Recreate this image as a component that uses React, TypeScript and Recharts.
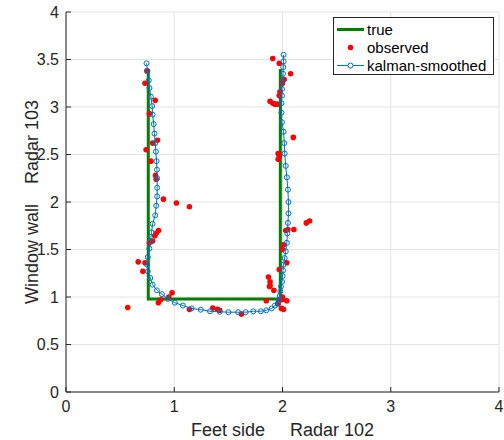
import React from "react";
import {
  ScatterChart,
  Scatter,
  XAxis,
  YAxis,
  CartesianGrid,
  Legend,
  Label,
} from "recharts";

const FONT = '"Liberation Sans", Arial, Helvetica, sans-serif';
const AXIS_COLOR = "#262626";

// true path (green)
const trueX = [0.76, 0.76, 1.98, 1.98];
const trueY = [3.4, 0.98, 0.98, 3.4];

// observed radar points (red)
const observedX = [
  0.747, 0.73, 0.824, 0.77, 0.845, 0.8, 0.74, 0.784, 0.827, 0.833, 0.9, 1.02,
  1.14, 0.855, 0.833, 0.82, 0.8, 0.77, 0.667, 0.73, 0.71, 0.57, 0.98, 0.95,
  0.875, 0.853, 1.14, 1.356, 1.4, 1.42, 1.62, 1.85, 1.885, 1.885, 2.0, 2.04,
  1.99, 2.01, 2.25, 2.22, 2.105, 2.03, 2.05, 2.01, 2.0, 2.04, 1.97, 1.87, 1.88,
  1.92, 1.97, 2.005, 1.96, 1.91, 1.97, 2.075, 2.015, 2.0, 1.977, 1.97, 1.885,
  1.91, 1.93, 1.95, 2.1, 1.96, 1.97, 1.96,
];
const observedY = [
  3.38, 3.25, 3.07, 2.93, 2.65, 2.62, 2.55, 2.43, 2.28, 2.24, 2.03, 1.99, 1.95,
  1.7, 1.67, 1.645, 1.59, 1.57, 1.37, 1.36, 1.27, 0.89, 1.045, 1.0, 0.97, 0.94,
  0.87, 0.885, 0.87, 0.86, 0.82, 0.96, 1.16, 1.12, 1.0, 0.96, 0.88, 0.87, 1.8,
  1.78, 1.71, 1.7, 1.71, 1.55, 1.5, 1.36, 1.29, 1.21, 1.11, 1.07, 0.96, 0.975,
  0.93, 3.51, 3.46, 3.35, 3.29, 3.25, 3.16, 3.12, 3.06, 3.04, 3.03, 3.03, 2.68,
  2.51, 2.49, 2.45,
];

// kalman-smoothed track (blue)
const smoothX = [
  0.744, 0.753, 0.765, 0.771, 0.784, 0.796, 0.8, 0.81, 0.817, 0.824, 0.83,
  0.836, 0.84, 0.842, 0.842, 0.842, 0.833, 0.824, 0.8, 0.79, 0.78, 0.77, 0.756,
  0.75, 0.756, 0.778, 0.8, 0.84, 0.886, 0.94, 1.005, 1.08, 1.16, 1.245, 1.33,
  1.42, 1.5, 1.59, 1.66, 1.73, 1.8, 1.85, 1.9, 1.93, 1.955, 1.965, 1.975, 1.98,
  1.985, 1.995, 2.0, 2.005, 2.01, 2.02, 2.03, 2.04, 2.045, 2.05, 2.055, 2.055,
  2.05, 2.04, 2.03, 2.02, 2.017, 2.01, 1.995, 1.99, 1.99, 1.995, 1.995, 2.0,
  2.005, 2.007, 2.01, 2.01,
];
const smoothY = [
  3.46, 3.38, 3.28, 3.2, 3.11, 3.01, 2.92, 2.82, 2.72, 2.62, 2.53, 2.43, 2.34,
  2.25, 2.15, 2.06, 1.96, 1.86, 1.77, 1.68, 1.59, 1.51, 1.42, 1.34, 1.27, 1.2,
  1.13, 1.07, 1.03, 0.98, 0.94, 0.91, 0.88, 0.866, 0.85, 0.845, 0.84, 0.84,
  0.84, 0.85, 0.85, 0.86, 0.88, 0.91, 0.93, 0.97, 1.01, 1.06, 1.11, 1.16, 1.22,
  1.28, 1.34, 1.41, 1.48, 1.57, 1.67, 1.78, 1.88, 2.0, 2.13, 2.26, 2.38, 2.51,
  2.62, 2.74, 2.84, 2.94, 3.04, 3.12, 3.19, 3.27, 3.35, 3.42, 3.48, 3.55,
];

const xTicks = [0, 1, 2, 3, 4];
const yTicks = [0, 0.5, 1, 1.5, 2, 2.5, 3, 3.5, 4];

const toPoints = (xs: number[], ys: number[]) =>
  xs.map((x, i) => ({ x, y: ys[i] }));

const trueData = toPoints(trueX, trueY);
const observedData = toPoints(observedX, observedY);
const smoothData = toPoints(smoothX, smoothY);

const NoDot = () => <g />;

const RedDot = (props: any) => (
  <circle cx={props.cx} cy={props.cy} r={2.8} fill="#ff0000" />
);

const BlueRing = (props: any) => (
  <circle
    cx={props.cx}
    cy={props.cy}
    r={2.5}
    fill="none"
    stroke="#0072bd"
    strokeWidth={1}
  />
);

const XLabel = (props: any) => {
  const { x, y, width } = props.viewBox;
  return (
    <text
      x={x + width / 2}
      y={y + 44}
      textAnchor="middle"
      fontFamily={FONT}
      fontSize={18}
      fill={AXIS_COLOR}
      style={{ whiteSpace: "pre" }}
    >
      {"Feet side     Radar 102"}
    </text>
  );
};

const YLabel = (props: any) => {
  const { y, height } = props.viewBox;
  const cx = 38;
  const cy = y + height / 2;
  return (
    <text
      x={cx}
      y={cy}
      textAnchor="middle"
      transform={`rotate(-90 ${cx} ${cy})`}
      fontFamily={FONT}
      fontSize={18}
      fill={AXIS_COLOR}
      style={{ whiteSpace: "pre" }}
    >
      {"Window wall    Radar 103"}
    </text>
  );
};

function LegendBox() {
  const rows = [
    { name: "true", kind: "line" },
    { name: "observed", kind: "dot" },
    { name: "kalman-smoothed", kind: "ring" },
  ];
  return (
    <div
      style={{
        width: 159,
        height: 56,
        border: `1px solid ${AXIS_COLOR}`,
        background: "#fff",
        fontFamily: FONT,
        fontSize: 15,
        color: "#000",
        position: "relative",
      }}
    >
      <svg width={34} height={56} style={{ position: "absolute", left: 0, top: 0 }}>
        <line x1={3} x2={30} y1={11.5} y2={11.5} stroke="#008000" strokeWidth={3} />
        <circle cx={16.5} cy={29.5} r={2.8} fill="#ff0000" />
        <line x1={3} x2={30} y1={47.5} y2={47.5} stroke="#0072bd" strokeWidth={1} />
        <circle cx={16.5} cy={47.5} r={2.5} fill="#fff" stroke="#0072bd" />
      </svg>
      {rows.map((r, i) => (
        <div
          key={r.name}
          style={{
            position: "absolute",
            left: 33,
            top: 3 + i * 18,
            lineHeight: "17px",
            whiteSpace: "nowrap",
          }}
        >
          {r.name}
        </div>
      ))}
    </div>
  );
}

export default function App() {
  return (
    <div style={{ position: "absolute", left: 0, top: 0, width: 504, height: 440, background: "#fff" }}>
      <ScatterChart
        width={504}
        height={440}
        margin={{ top: 12, right: 5, bottom: 0, left: 0 }}
      >
        <CartesianGrid stroke="#e3e3e3" strokeWidth={1} />
        <XAxis
          type="number"
          dataKey="x"
          domain={[0, 4]}
          ticks={xTicks}
          allowDataOverflow
          height={48}
          tickSize={-5}
          tickMargin={14}
          stroke={AXIS_COLOR}
          tick={{ fill: AXIS_COLOR, fontSize: 16, fontFamily: FONT }}
        >
          <Label content={XLabel} />
        </XAxis>
        <YAxis
          type="number"
          dataKey="y"
          domain={[0, 4]}
          ticks={yTicks}
          allowDataOverflow
          width={66}
          tickSize={-5}
          tickMargin={12}
          stroke={AXIS_COLOR}
          tick={{ fill: AXIS_COLOR, fontSize: 16, fontFamily: FONT }}
        >
          <Label content={YLabel} />
        </YAxis>
        <Scatter
          name="true"
          data={trueData}
          line={{ stroke: "#008000", strokeWidth: 3 }}
          lineType="joint"
          shape={NoDot}
          isAnimationActive={false}
        />
        <Scatter
          name="observed"
          data={observedData}
          shape={RedDot}
          isAnimationActive={false}
        />
        <Scatter
          name="kalman-smoothed"
          data={smoothData}
          line={{ stroke: "#0072bd", strokeWidth: 1 }}
          lineType="joint"
          shape={BlueRing}
          isAnimationActive={false}
        />
        <Legend
          layout="vertical"
          align="center"
          verticalAlign="middle"
          content={LegendBox}
          wrapperStyle={{ left: 333, top: 17, width: 161, height: 58, right: "auto", bottom: "auto" }}
        />
      </ScatterChart>
    </div>
  );
}
